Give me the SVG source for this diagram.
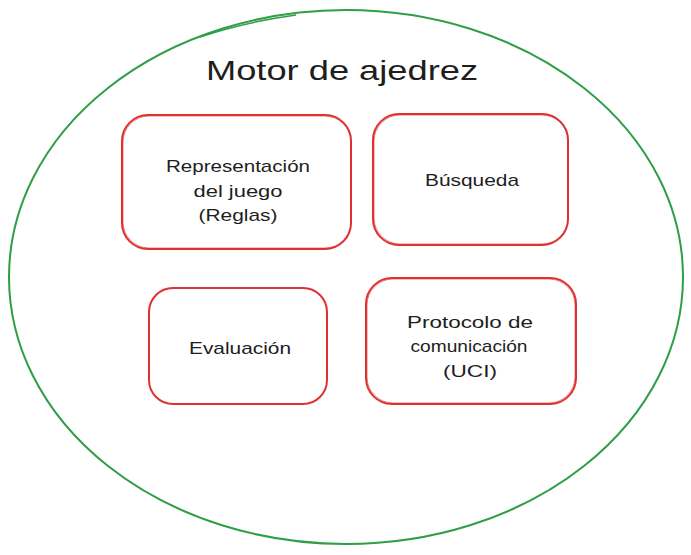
<svg xmlns="http://www.w3.org/2000/svg" width="691" height="555" viewBox="0 0 691 555">
<style>
.box{fill:#ffffff;stroke:#e03131;stroke-width:2;}
.box2{fill:none;stroke:#e03131;stroke-width:1;opacity:0.6;}
.lbl{font-family:"Liberation Sans",Arial,sans-serif;font-size:17px;fill:#1e1e1e;text-anchor:middle;}
.title{font-family:"Liberation Sans",Arial,sans-serif;font-size:28px;fill:#1e1e1e;text-anchor:middle;}
</style>
<rect width="691" height="555" fill="#ffffff"/>
<g id="motor">
<ellipse cx="346" cy="277" rx="337" ry="267" fill="none" stroke="#2f9e44" stroke-width="2"/>
<path d="M200 37 Q245 22 296 15" fill="none" stroke="#2f9e44" stroke-width="1.5"/>
<text class="title" x="342" y="80" textLength="272" lengthAdjust="spacingAndGlyphs">Motor de ajedrez</text>
</g>
<g id="representacion">
<rect class="box" x="122" y="115" width="229" height="134" rx="26"/>
<rect class="box2" x="123" y="116" width="228" height="132" rx="26"/>
<text class="lbl" x="238" y="172" textLength="144" lengthAdjust="spacingAndGlyphs">Representación</text>
<text class="lbl" x="238" y="197" textLength="89" lengthAdjust="spacingAndGlyphs">del juego</text>
<text class="lbl" x="238" y="221" textLength="79" lengthAdjust="spacingAndGlyphs">(Reglas)</text>
</g>
<g id="busqueda">
<rect class="box" x="373" y="114" width="195" height="131" rx="26"/>
<rect class="box2" x="374" y="115" width="194" height="129" rx="26"/>
<text class="lbl" x="472" y="186" textLength="94" lengthAdjust="spacingAndGlyphs">Búsqueda</text>
</g>
<g id="evaluacion">
<rect class="box" x="149" y="288" width="178" height="116" rx="24"/>
<text class="lbl" x="240" y="354" textLength="102" lengthAdjust="spacingAndGlyphs">Evaluación</text>
</g>
<g id="protocolo">
<rect class="box" x="366" y="278" width="210" height="126" rx="26"/>
<rect class="box2" x="367" y="279" width="208" height="124" rx="26"/>
<text class="lbl" x="470" y="328" textLength="126" lengthAdjust="spacingAndGlyphs">Protocolo de</text>
<text class="lbl" x="469" y="352" textLength="117" lengthAdjust="spacingAndGlyphs">comunicación</text>
<text class="lbl" x="470" y="377" textLength="54" lengthAdjust="spacingAndGlyphs">(UCI)</text>
</g>
<g id="connectors"></g>
</svg>
